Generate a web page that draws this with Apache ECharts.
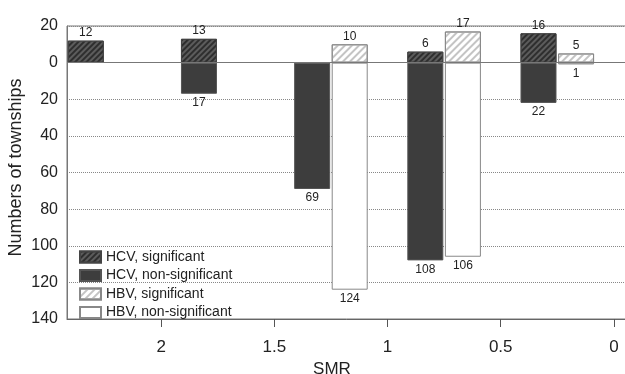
<!DOCTYPE html>
<html>
<head>
<meta charset="utf-8">
<script src="https://cdn.jsdelivr.net/npm/echarts@6/dist/echarts.min.js"></script>
<style>
html,body{margin:0;padding:0;background:#fff;}
#main{width:625px;height:374px;}
</style>
</head>
<body>
<div id="main"></div>
<script>
// SMR bin centres (HCV bar sits right of centre, HBV bar left of it)
var smrBins   = [2.25, 1.75, 1.25, 0.75, 0.25];
var hcvSig    = [12, 13, null, 6, 16];
var hcvNonSig = [null, 17, 69, 108, 22];
var hbvSig    = [null, null, 10, 17, 5];
var hbvNonSig = [null, null, 124, 106, 1];

var shift = 0.083;
function pts(arr, off, sign){
	var out = [];
	for (var i = 0; i < smrBins.length; i++){
		if (arr[i] == null) continue;
		out.push([smrBins[i] + off, sign * arr[i]]);
	}
	return out;
}

var myChart = echarts.init(document.getElementById('main'));
var lblUp = {show:true, position:'top', distance:2, fontSize:12, color:'#222',
	formatter:function(p){ return Math.abs(p.value[1]); }};
var lblDown = {show:true, position:'bottom', distance:3, fontSize:12, color:'#222',
	formatter:function(p){ return Math.abs(p.value[1]); }};

function bar(name, data, fill, border, decal, label){
	var s = {
		name: name,
		type: 'bar',
		data: data,
		barWidth: 36,
		barGap: '-100%',
		itemStyle: {color: fill, borderColor: border, borderWidth: 1},
		label: label
	};
	if (decal) s.itemStyle.decal = decal;
	return s;
}

var option = {
	animation: false,
	textStyle: {fontFamily: 'Liberation Sans, Arial'},
	grid: {left: 67, right: -2, top: 26, bottom: 55, show: true, borderColor: '#777', borderWidth: 1,
		outerBoundsMode: 'none', containLabel: false},
	legend: {
		orient: 'vertical', left: 74, top: 245, icon: 'rect',
		itemWidth: 21, itemHeight: 11, itemGap: 4.5,
		textStyle: {fontSize: 14, color: '#222'},
		data: ['HCV, significant', 'HCV, non-significant', 'HBV, significant', 'HBV, non-significant']
	},
	xAxis: {
		type: 'value', inverse: true, min: -0.058, max: 2.416, splitNumber: 5,
		name: 'SMR', nameLocation: 'middle', nameGap: 40,
		nameTextStyle: {fontSize: 17, color: '#222', padding: [0, 30, 0, 0]},
		axisLine: {onZero: false, lineStyle: {color: '#666'}},
		axisTick: {show: true, inside: false, length: 8, lineStyle: {color: '#555', width: 1}},
		axisLabel: {fontSize: 17, color: '#222', margin: 20, showMinLabel: false, showMaxLabel: false},
		splitLine: {show: false}
	},
	yAxis: {
		type: 'value', inverse: true, min: -20, max: 140, interval: 20,
		name: 'Numbers of townships', nameLocation: 'middle', nameGap: 42, nameMoveOverlap: false,
		nameTextStyle: {fontSize: 18, color: '#222', padding: [0, 0, 0, 10]},
		axisLine: {show: true, onZero: false, lineStyle: {color: '#777'}},
		axisTick: {show: false},
		axisLabel: {fontSize: 16, color: '#222', margin: 9, formatter: function(v){ return Math.abs(v); }},
		splitLine: {show: true, lineStyle: {color: '#888', type: 'dotted'}}
	},
	series: [
		bar('HCV, significant', pts(hcvSig, shift, -1), '#5c5c5c', '#444',
			{symbol: 'rect', symbolSize: 1, dashArrayX: [1, 0], dashArrayY: [2, 2], rotation: -Math.PI / 4, color: '#2e2e2e'}, lblUp),
		bar('HCV, non-significant', pts(hcvNonSig, shift, 1), '#3d3d3d', '#555', null, lblDown),
		bar('HBV, significant', pts(hbvSig, -shift, -1), '#ffffff', '#888',
			{symbol: 'rect', symbolSize: 1, dashArrayX: [1, 0], dashArrayY: [2, 3], rotation: -Math.PI / 4, color: '#c4c4c4'}, lblUp),
		bar('HBV, non-significant', pts(hbvNonSig, -shift, 1), '#ffffff', '#888', null, lblDown),
		{
			type: 'line', data: [], silent: true,
			markLine: {silent: true, symbol: ['none', 'none'], label: {show: false},
				lineStyle: {color: '#777', type: 'solid', width: 1}, data: [{yAxis: 0}]}
		}
	]
};
myChart.setOption(option);
</script>
</body>
</html>
